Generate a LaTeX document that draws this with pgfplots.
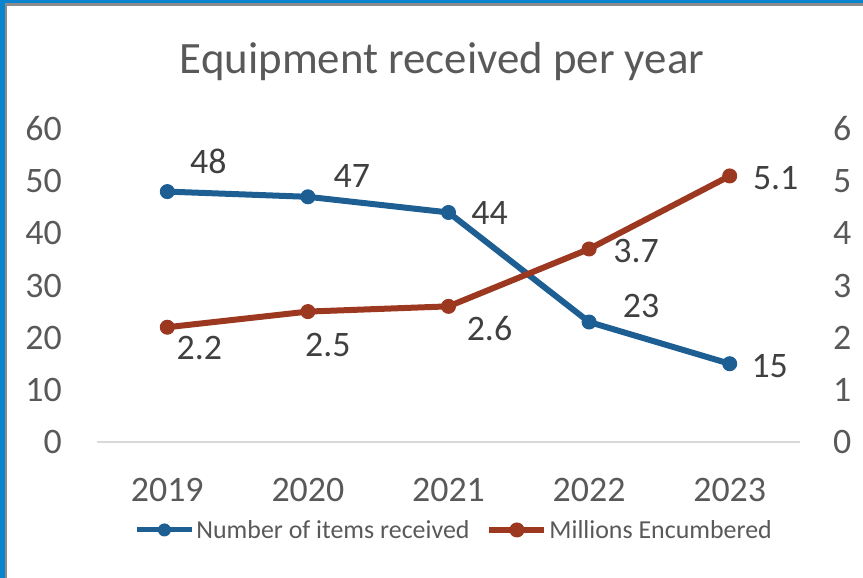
\documentclass[border=0pt]{standalone}
\usepackage{fontspec}
\setmainfont{Carlito}
\usepackage{pgfplots}
\usepackage{pgfplotstable}
\pgfplotsset{compat=1.18}

\definecolor{itemblue}{HTML}{1D5E93}
\definecolor{encred}{HTML}{9C3720}
\definecolor{txtgray}{HTML}{595959}
\definecolor{lblgray}{HTML}{404040}
\definecolor{baseline}{HTML}{D9D9D9}
\definecolor{frameblue}{HTML}{0A84CF}
\definecolor{framegray}{HTML}{8C8C8C}

% label offsets (dx, dy) in bp, relative to the point
\pgfplotstableread{
x y lbl dx dy
0 48 48 41 30
1 47 47 44 21
2 44 44 41 -1
3 23 23 52 16
4 15 15 40 -2
}\items

\pgfplotstableread{
x y lbl dx dy
0 2.2 2.2 32 -21
1 2.5 2.5 20 -33
2 2.6 2.6 41 -22
3 3.7 3.7 47 -2
4 5.1 5.1 46 -2
}\millions

\pgfplotsset{
  chartbase/.style={
    scale only axis, width=703bp, height=313bp,
    at={(97bp,136bp)}, anchor=south west,
    xmin=-0.5, xmax=4.5,
    major tick length=0pt,
    clip=false,
    /pgf/number format/assume math mode=true,
    tick label style={font=\fontsize{36}{40}\selectfont, text=txtgray, inner sep=0pt},
  },
  lbls/.style={
    visualization depends on={\thisrow{dx} \as \dx},
    visualization depends on={\thisrow{dy} \as \dy},
    point meta=explicit symbolic,
    nodes near coords,
    every node near coord/.append style={anchor=center, xshift=\dx bp, yshift=\dy bp,
      font=\fontsize{36}{40}\selectfont, text=lblgray},
  },
  legend image code/.code={
    \draw[mark repeat=2, mark phase=2] plot coordinates {(0bp,0bp) (27.5bp,0bp) (55bp,0bp)};
  },
}

\begin{document}
\begin{tikzpicture}
\useasboundingbox (0,0) rectangle (863bp,578bp);
% frame
\fill[frameblue] (0,0) rectangle (5bp,578bp);
\fill[frameblue] (0,574.7bp) rectangle (863bp,578bp);
\fill[framegray] (5bp,0) rectangle (7.3bp,574.7bp);
\fill[framegray] (5bp,572.3bp) rectangle (863bp,574.7bp);

\node[anchor=base, text=txtgray, font=\fontsize{45}{50}\selectfont] at (442bp,504bp) {Equipment received per year};

\begin{axis}[chartbase,
  ymin=0, ymax=60, ytick={0,10,...,60},
  xtick={0,...,4}, xticklabels={2019,2020,2021,2022,2023},
  axis x line*=bottom, axis y line*=left,
  axis line style={-},
  y axis line style={draw=none},
  x axis line style={draw=baseline, line width=2bp},
  yticklabel style={anchor=east, xshift=-35bp},
  xticklabel style={anchor=north, yshift=-36bp},
]
\addplot[itemblue, line width=6bp, mark=*, mark size=7bp, mark options={solid, fill=itemblue, line width=1bp}, lbls]
  table[x=x, y=y, meta=lbl] {\items};
\end{axis}

\begin{axis}[chartbase,
  ymin=0, ymax=6, ytick={0,1,...,6},
  axis y line*=right, axis x line=none,
  y axis line style={draw=none},
  yticklabel style={anchor=west, xshift=33bp},
  legend columns=2,
  legend style={at={(0.508,-0.281)}, anchor=center, draw=none, fill=none,
    font=\fontsize{26}{30}\selectfont, text=txtgray, inner sep=0pt,
    nodes={inner sep=2bp},
    /tikz/every even column/.append style={column sep=15bp}},
]
\addlegendimage{itemblue, line width=5bp, mark=*, mark size=6bp, mark options={solid, fill=itemblue, line width=1bp}}
\addlegendentry{Number of items received}
\addplot[encred, line width=6bp, mark=*, mark size=7bp, mark options={solid, fill=encred, line width=1bp}, lbls]
  table[x=x, y=y, meta=lbl] {\millions};
\addlegendentry{Millions Encumbered}
\end{axis}
\end{tikzpicture}
\end{document}
